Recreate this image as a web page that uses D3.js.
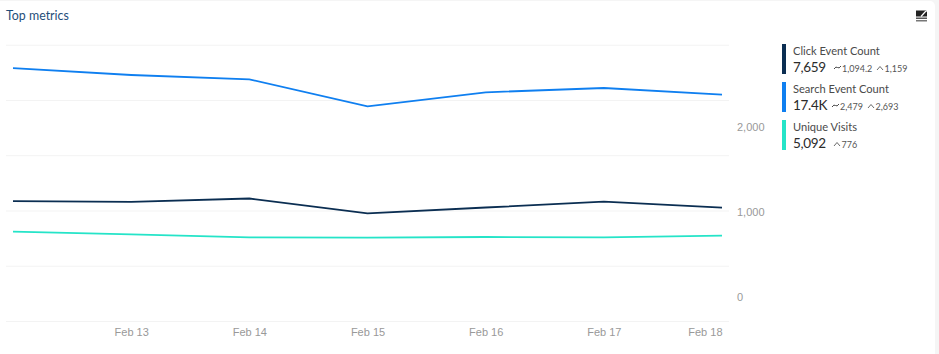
<!DOCTYPE html>
<html>
<head>
<meta charset="utf-8">
<script src="https://cdn.jsdelivr.net/npm/d3@7"></script>
<style>
    html, body { margin: 0; padding: 0; background: #f5f5f5; overflow: hidden; }
    #chart { display: block; }
    .axis text { font-family: "Liberation Sans", Arial, sans-serif; font-size: 11px; fill: #999; }
    .legend text { font-family: Lato, sans-serif; }
</style>
</head>
<body>
<svg id="chart" width="939" height="354"></svg>
<script>
const dates = ["2024-02-12", "2024-02-13", "2024-02-14", "2024-02-15", "2024-02-16", "2024-02-17", "2024-02-18"];
const clickEvents = [1129, 1118, 1159, 985, 1053, 1121, 1051];
const searchEvents = [2693, 2612, 2561, 2243, 2408, 2459, 2380];
const uniqueVisits = [770, 737, 702, 698, 706, 702, 721];

const xTicks = ["2024-02-13", "2024-02-14", "2024-02-15", "2024-02-16", "2024-02-17", "2024-02-18"];
const yTicks = [0, 1000, 2000];
// the grid does not sit on the value ticks in the original
const gridValues = [-282, 368, 1018, 1668, 2318, 2968];

const seriesNames = ["Click Event Count", "Search Event Count", "Unique Visits"];
const seriesColors = ["#0b2e52", "#0f7ff0", "#25e4c8"];
const seriesTotals = ["7,659", "17.4K", "5,092"];
const seriesAverages = ["1,094.2", "2,479", null];
const seriesPeaks = ["1,159", "2,693", "776"];

const parseDay = d3.utcParse("%Y-%m-%d");
const svg = d3.select("#chart");

// card
svg.append("rect")
    .attr("x", -10).attr("y", 1)
    .attr("width", 945).attr("height", 370)
    .attr("rx", 5)
    .attr("fill", "#fff");

svg.append("text")
    .attr("x", 6).attr("y", 20)
    .attr("font-family", "Lato, sans-serif")
    .attr("font-size", 12.4)
    .attr("fill", "#1f4e79")
    .text("Top metrics");

const xScale = d3.scaleUtc()
    .domain(d3.extent(dates, parseDay))
    .range([13, 722]);

const yScale = d3.scaleLinear()
    .domain([0, 2000])
    .range([297, 127]);

svg.append("g")
    .selectAll("line")
    .data(gridValues)
    .enter().append("line")
    .attr("x1", 6)
    .attr("x2", 729)
    .attr("y1", d => yScale(d) + 0.5)
    .attr("y2", d => yScale(d) + 0.5)
    .attr("stroke", "#f3f3f3");

const xAxis = svg.append("g")
    .attr("class", "axis")
    .attr("transform", "translate(0,328)")
    .call(d3.axisBottom(xScale)
        .tickValues(xTicks.map(parseDay))
        .tickFormat(d3.utcFormat("%b %d"))
        .tickSize(0)
        .tickPadding(0));
xAxis.select(".domain").remove();
// last label is pulled inside the plot
xAxis.selectAll("text").filter((d, i) => i === xTicks.length - 1).attr("text-anchor", "end");

const yAxis = svg.append("g")
    .attr("class", "axis")
    .attr("transform", "translate(737,0)")
    .call(d3.axisRight(yScale)
        .tickValues(yTicks)
        .tickFormat(d3.format(","))
        .tickSize(0)
        .tickPadding(0));
yAxis.select(".domain").remove();

const line = d3.line()
    .x((d, i) => xScale(parseDay(dates[i])))
    .y(d => yScale(d));

[clickEvents, searchEvents, uniqueVisits].forEach(function(values, i) {
    svg.append("path")
        .attr("d", line(values))
        .attr("fill", "none")
        .attr("stroke", seriesColors[i])
        .attr("stroke-width", 1.8);
});

// legend
const legendRows = [44, 82, 120];
const totalWidths = [33, 31, 33];

function drawAverageGlyph(g, x) {
    g.append("path")
        .attr("d", `M${x},${69} q2,-3 3.5,-1.5 t3.5,-1.5`)
        .attr("fill", "none")
        .attr("stroke", "#444")
        .attr("stroke-width", 1);
}

function drawPeakGlyph(g, x) {
    g.append("path")
        .attr("d", `M${x},${70} l3,-3.5 l3,3.5`)
        .attr("fill", "none")
        .attr("stroke", "#444")
        .attr("stroke-width", 0.8);
}

const legend = svg.append("g").attr("class", "legend");

seriesNames.forEach(function(name, i) {
    const g = legend.append("g").attr("transform", `translate(0,${legendRows[i] - 44})`);

    g.append("rect")
        .attr("x", 782).attr("y", 44)
        .attr("width", 4).attr("height", 30)
        .attr("fill", seriesColors[i]);

    g.append("text")
        .attr("x", 793).attr("y", 55)
        .attr("font-size", 11.1)
        .attr("fill", "#4a4a4a")
        .text(name);

    g.append("text")
        .attr("x", 793).attr("y", 72)
        .attr("font-size", 13.5)
        .attr("letter-spacing", -0.3)
        .attr("fill", "#2b2b2b")
        .text(seriesTotals[i]);

    let x = 793 + totalWidths[i] + 8;
    if (seriesAverages[i]) {
        drawAverageGlyph(g, x);
        g.append("text")
            .attr("x", x + 8).attr("y", 72)
            .attr("font-size", 9)
            .attr("fill", "#555")
            .text(seriesAverages[i]);
        x += i === 0 ? 43 : 36;
    }
    drawPeakGlyph(g, x);
    g.append("text")
        .attr("x", x + 7.5).attr("y", 72)
        .attr("font-size", 9)
        .attr("fill", "#555")
        .text(seriesPeaks[i]);
});

// chart type icon, top right
const icon = svg.append("g").attr("transform", "translate(916,10.5)");
icon.append("rect").attr("width", 11).attr("height", 6).attr("fill", "#222");
icon.append("path").attr("d", "M5,6 L9,1.5 L11,0").attr("stroke", "#fff").attr("stroke-width", 1.2).attr("fill", "none");
icon.append("rect").attr("y", 7).attr("width", 11).attr("height", 1.5).attr("fill", "#555");
icon.append("rect").attr("y", 9.5).attr("width", 11).attr("height", 1.5).attr("fill", "#777");
</script>
</body>
</html>
